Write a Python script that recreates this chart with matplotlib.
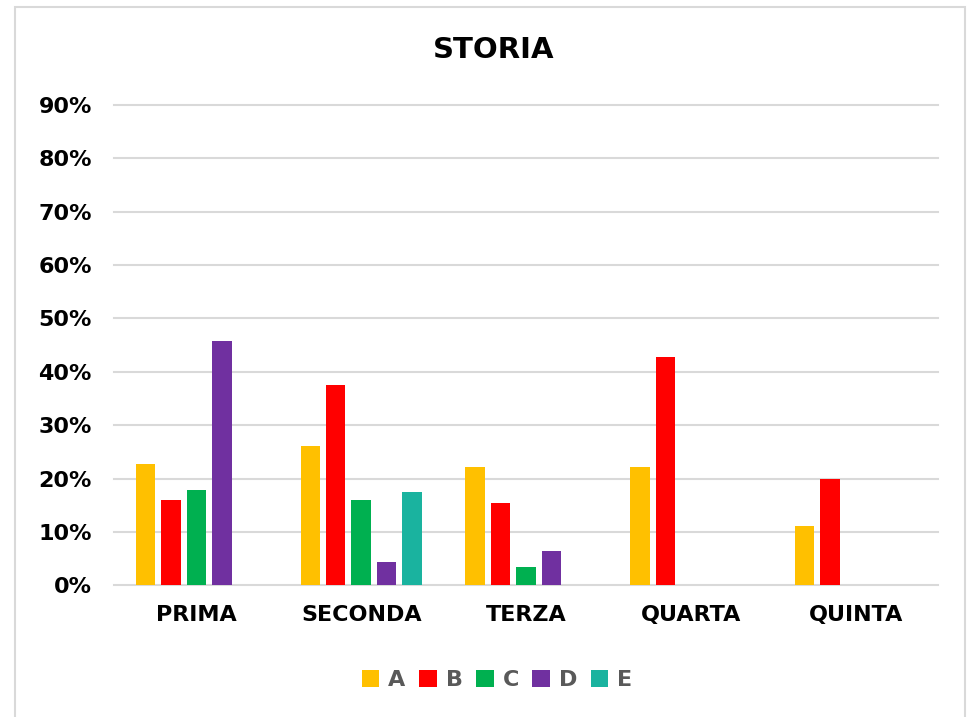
import matplotlib
matplotlib.use('Agg')
import matplotlib.pyplot as plt
import numpy as np
from matplotlib.patches import Rectangle
from matplotlib.ticker import PercentFormatter

# chart data
categories = ['PRIMA', 'SECONDA', 'TERZA', 'QUARTA', 'QUINTA']
series_names = ['A', 'B', 'C', 'D', 'E']
A = [22.7, 26.1, 22.2, 22.2, 11.1]
B = [15.9, 37.5, 15.4, 42.8, 20.0]
C = [17.8, 15.9, 3.5, 0, 0]
D = [45.7, 4.3, 6.4, 0, 0]
E = [0, 17.5, 0, 0, 0]
colors = ['#ffc000', '#ff0000', '#00b050', '#7030a0', '#1ab39f']

plt.rcParams['font.family'] = ['DejaVu Sans']

fig = plt.figure(figsize=[9.68, 7.17], dpi=100)
ax = fig.add_axes([114/968, 1 - 585.3/717, (938 - 114)/968, (585.3 - 105)/717])

# light frame round the chart
fig.patches.append(Rectangle((15/968, -0.01), 950/968, 1 - 7/717 + 0.01,
                             transform=fig.transFigure, fill=False,
                             edgecolor='#d9d9d9', linewidth=1.5))

x = np.arange(len(categories))
slot = 0.1545
width = 0.118
for i, (name, vals) in enumerate(zip(series_names, [A, B, C, D, E])):
    ax.bar(x + (i - 2) * slot, np.array(vals) / 100, width,
           color=colors[i], label=name, zorder=3)

ax.set_xlim(-0.5, 4.5)
ax.set_ylim(0, 0.9)
ax.set_yticks(np.arange(0, 0.91, 0.1))
ax.yaxis.set_major_formatter(PercentFormatter(1.0, decimals=0))
ax.grid(True, axis='y', color='#d9d9d9', linewidth=1.5, zorder=0)
for gl in ax.yaxis.get_gridlines():
    gl.set_clip_on(False)
for s in ax.spines.values():
    s.set_visible(False)
ax.tick_params(length=0)
ax.tick_params(axis='y', pad=16)
ax.tick_params(axis='x', pad=14)
ax.set_xticks(x)
ax.set_xticklabels(categories, fontsize=16, fontweight='bold')
for lb in ax.get_yticklabels():
    lb.set_fontsize(16)
    lb.set_fontweight('bold')

fig.text(0.5 + 10/968, 1 - 50/717, 'STORIA', ha='center', va='center',
         fontsize=21, fontweight='bold')

leg = fig.legend(loc='center', bbox_to_anchor=(497/968, 1 - 680/717), ncol=5,
                 frameon=False, handlelength=0.8, handleheight=0.8,
                 handletextpad=0.4, columnspacing=0.6,
                 prop={'size': 16, 'weight': 'bold'})
for t in leg.get_texts():
    t.set_color('#595959')

fig.savefig('out.png', dpi=100)
